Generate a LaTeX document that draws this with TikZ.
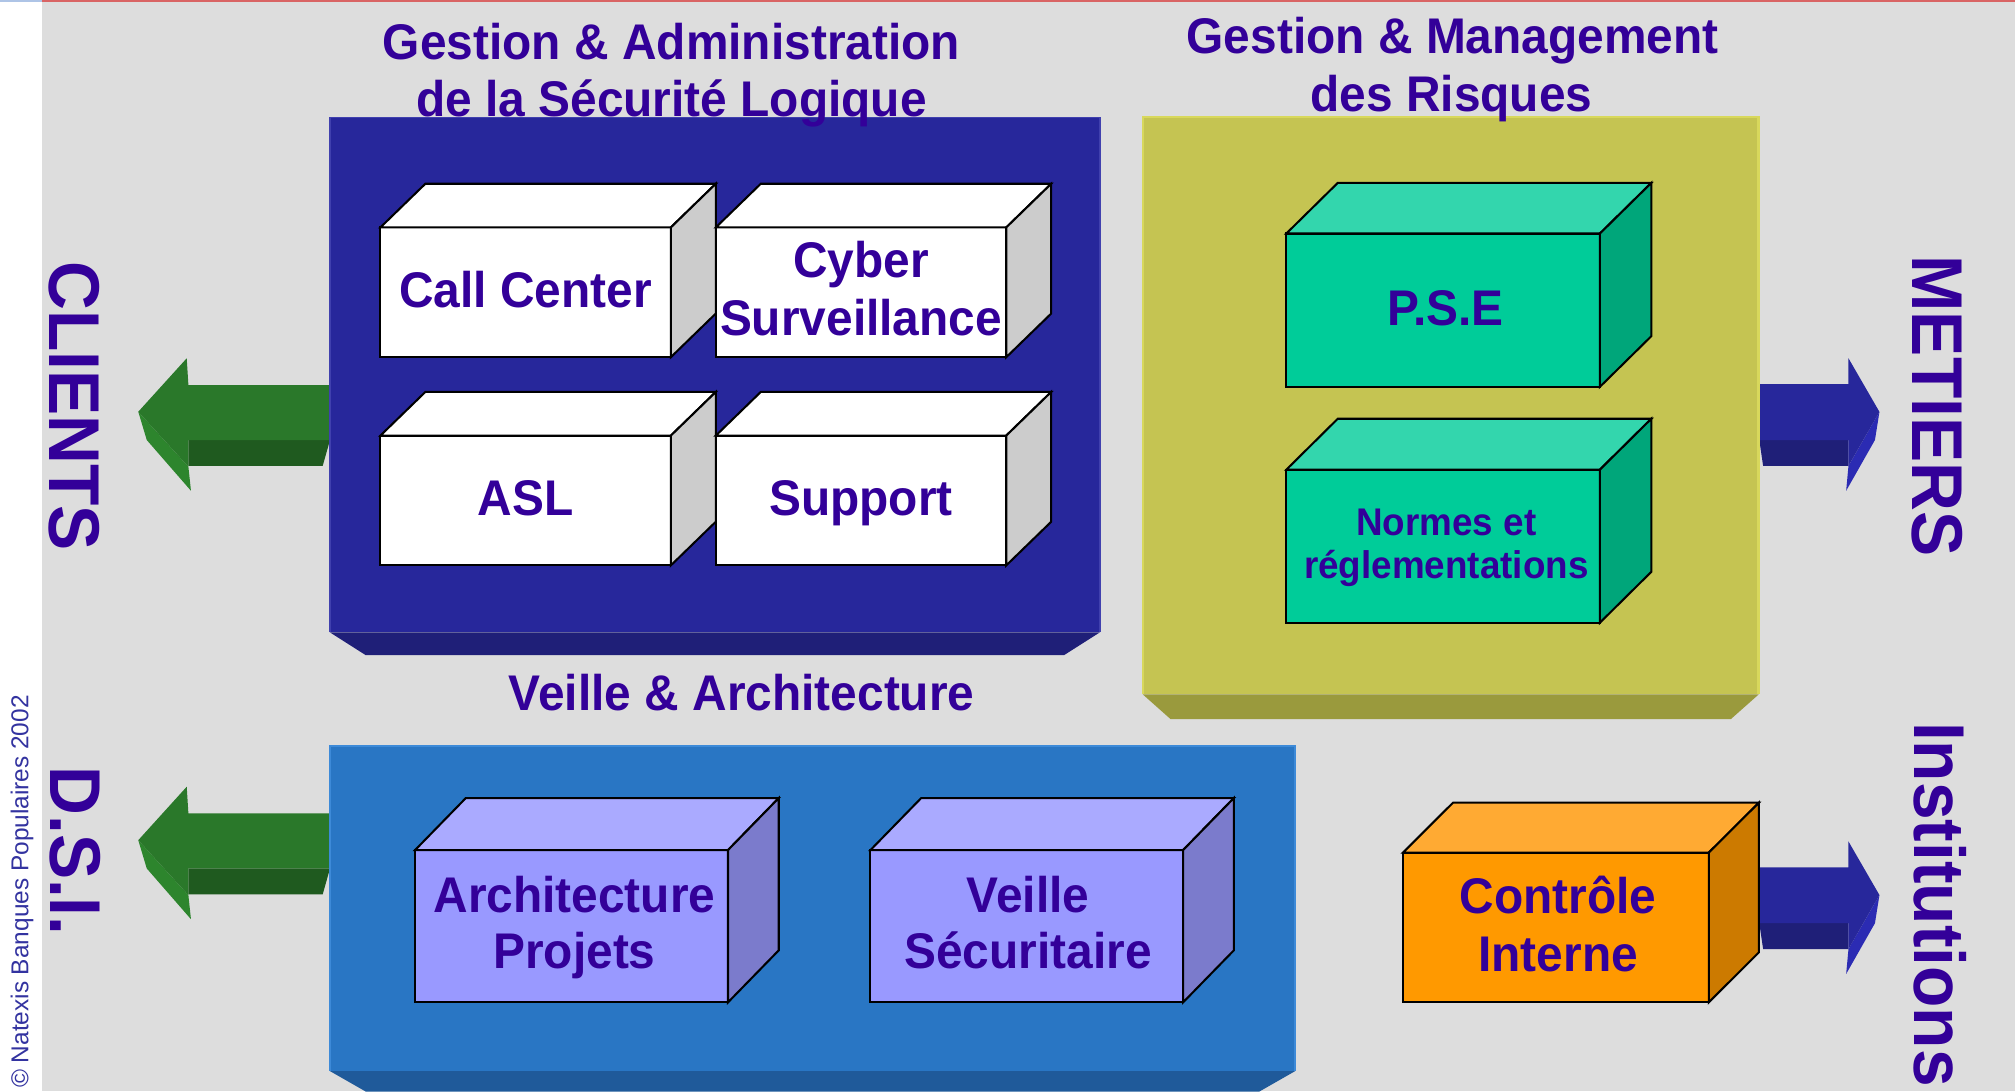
\documentclass[tikz,border=0pt]{standalone}
\usepackage{fontspec}
\setmainfont{Liberation Sans}
\newfontfamily\lbl{Liberation Sans}[FakeStretch=0.955]
\newfontfamily\sidef{Liberation Sans}[FakeStretch=0.94]

\definecolor{bgc}{HTML}{DDDDDD}
\definecolor{txtc}{HTML}{330099}
\definecolor{cpc}{HTML}{3333A0}
\definecolor{topblue}{HTML}{AEC4E6}
\definecolor{topred}{HTML}{D96464}
\definecolor{gaBlue}{HTML}{27279B}
\definecolor{gaBevel}{HTML}{1F1F78}
\definecolor{gaEdge}{HTML}{4040AE}
\definecolor{vaBlue}{HTML}{2976C4}
\definecolor{vaBevel}{HTML}{1F5A9A}
\definecolor{vaEdge}{HTML}{3D8AD8}
\definecolor{olv}{HTML}{C5C452}
\definecolor{olvBevel}{HTML}{9A9A3D}
\definecolor{olvEdge}{HTML}{D8D85C}
\definecolor{gFront}{HTML}{2A782A}
\definecolor{gDark}{HTML}{1F5A1F}
\definecolor{gFacet}{HTML}{2D852D}
\definecolor{bFront}{HTML}{27279B}
\definecolor{bDark}{HTML}{1F1F78}
\definecolor{bFacet}{HTML}{2B2BB3}
% cube palettes
\definecolor{wF}{HTML}{FFFFFF}\definecolor{wT}{HTML}{FFFFFF}\definecolor{wS}{HTML}{CCCCCC}
\definecolor{pF}{HTML}{9999FF}\definecolor{pT}{HTML}{AAAAFF}\definecolor{pS}{HTML}{7B7BCC}
\definecolor{tF}{HTML}{00CC99}\definecolor{tT}{HTML}{33D6AD}\definecolor{tS}{HTML}{00A67A}
\definecolor{oF}{HTML}{FF9900}\definecolor{oT}{HTML}{FFAA33}\definecolor{oS}{HTML}{CC7A00}

\tikzset{
  cubeface/.style={draw=black, line width=0.8pt, line join=miter},
  cubenode/.style={cubeface, inner sep=0pt, outer sep=0pt},
  panel/.style={inner sep=0pt, outer sep=0pt},
  txt/.style={text=txtc, font=\lbl\bfseries\fontsize{19.5}{22.5}\selectfont, inner sep=0pt, anchor=base},
  smalltxt/.style={text=txtc, font=\lbl\bfseries\fontsize{15}{17}\selectfont, inner sep=0pt, anchor=base},
  sidetxt/.style={text=txtc, font=\sidef\bfseries\fontsize{28}{30}\selectfont, inner sep=0pt, rotate=-90, anchor=base west},
}

% #1 name, #2 cx, #3 cy, #4 w, #5 h, #6 dx, #7 dy, #8 palette
\newcommand\cubeblock[8]{%
  \node[cubenode, fill=#8F, minimum width=#4*0.5pt, minimum height=#5*0.5pt] (#1) at (#2,#3) {};
  \filldraw[cubeface, fill=#8T] (#1.north west) -- ++(#6,-#7) -- ++(#4,0) -- (#1.north east) -- cycle;
  \filldraw[cubeface, fill=#8S] (#1.north east) -- ++(#6,-#7) -- ++(0,#5) -- (#1.south east) -- cycle;
}

\newcommand\greenarrow[1]{%
  \begin{scope}[shift={(0,#1)}]
    \fill[gDark] (146.6,342.4) -- (256.8,342.4) -- (251.1,362.6) -- (146.6,362.6) -- cycle;
    \fill[gFacet] (107.6,320.4) -- (114.2,342.4) -- (148.6,381.9) -- (146.6,363.2) -- cycle;
    \fill[gFront] (256.8,299.6) -- (146.6,299.6) -- (145.3,278.8) -- (107.6,320.4) -- (146.6,363.2) -- (146.6,342.4) -- (256.8,342.4) -- cycle;
  \end{scope}}

\newcommand\bluearrow[1]{%
  \begin{scope}[shift={(0,#1)}]
    \fill[bDark] (1369,342.4) -- (1438.4,342.4) -- (1438.4,362.6) -- (1372,362.6) -- cycle;
    \fill[bFacet] (1462.5,320.5) -- (1459,342.4) -- (1436.6,381.9) -- (1438.4,362.5) -- cycle;
    \fill[bFront] (1369,299) -- (1438.4,299) -- (1438.4,278.8) -- (1462.5,320.5) -- (1438.4,362.5) -- (1438.4,342.4) -- (1369,342.4) -- cycle;
  \end{scope}}

\begin{document}
\begin{tikzpicture}[x=0.5pt, y=-0.5pt]
\useasboundingbox (0,0) rectangle (1568,849);
\begin{scope}
\clip (0,0) rectangle (1568,849);
% background
\fill[white] (0,0) rectangle (32.3,849);
\fill[bgc] (32.3,0) rectangle (1568,849);
\fill[topblue] (0,0) rectangle (32.3,1.2);
\fill[topred] (32.3,0) rectangle (1568,1.2);

% arrows
\greenarrow{0}
\greenarrow{333.4}
\bluearrow{0}
\bluearrow{376}

% panel: Gestion & Administration
\node[panel, fill=gaBlue, minimum width=599.4*0.5pt, minimum height=400.7*0.5pt] (gasl) at (556.3,291.65) {};
\fill[gaBevel] (gasl.south west) -- (gasl.south east) -- ++(-27.8,17.7) -- ([shift={(27.8,17.7)}]gasl.south west) -- cycle;
\draw[gaEdge, line width=0.6pt] (gasl.south west) -- (gasl.north west) -- (gasl.north east) -- (gasl.south east);

% panel: Gestion & Management des Risques
\node[panel, fill=olv, minimum width=479.2*0.5pt, minimum height=449.1*0.5pt] (gmr) at (1128.9,315.85) {};
\fill[olvBevel] (gmr.south west) -- (gmr.south east) -- ++(-21.5,19.1) -- ([shift={(21.5,19.1)}]gmr.south west) -- cycle;
\draw[olvEdge, line width=0.9pt] (gmr.south west) -- (gmr.north west) -- (gmr.north east) -- (gmr.south east);

% panel: Veille & Architecture
\node[panel, fill=vaBlue, minimum width=751*0.5pt, minimum height=253.2*0.5pt] (va) at (632.3,706.9) {};
\fill[vaBevel] (va.south west) -- (va.south east) -- ++(-28,16) -- ([shift={(28,16)}]va.south west) -- cycle;
\draw[vaEdge, line width=0.6pt] (va.south west) -- (va.north west) -- (va.north east) -- (va.south east);

% cubes
\cubeblock{cc}{409}{227.5}{226}{101}{35}{34}{w}
\cubeblock{cyber}{670}{227.5}{226}{101}{35}{34}{w}
\cubeblock{asl}{409}{389.5}{226}{101}{35}{34}{w}
\cubeblock{supp}{670}{389.5}{226}{101}{35}{34}{w}
\cubeblock{pse}{1123}{241.35}{244}{119.3}{40}{39.4}{t}
\cubeblock{normes}{1123}{425}{244}{119.1}{40}{39.6}{t}
\cubeblock{arch}{444.75}{720.75}{243.5}{118.5}{39.5}{40.5}{p}
\cubeblock{veille}{799}{720.75}{243.3}{118.5}{39.5}{40.5}{p}
\cubeblock{ctrl}{1210.7}{721.75}{238}{116.5}{39}{38.9}{o}

% cube texts
\node[txt] (cctxt) at (409,239.5) {Call Center};
\node[txt] (cybtxt1) at (670,216) {Cyber};
\node[txt] (cybtxt2) at (670,261) {Surveillance};
\node[txt] (asltxt) at (409,401) {ASL};
\node[txt] (supptxt) at (670,401) {Support};
\node[txt] (psetxt) at (1125,253.5) {P.S.E};
\node[smalltxt] (normtxt1) at (1125.5,416.5) {Normes et};
\node[smalltxt] (normtxt2) at (1125.5,450) {réglementations};
\node[txt] (archtxt1) at (447,710) {Architecture};
\node[txt] (archtxt2) at (447,753.6) {Projets};
\node[txt] (veiltxt1) at (800,710) {Veille};
\node[txt] (veiltxt2) at (800,753.6) {Sécuritaire};
\node[txt] (ctrltxt1) at (1212.5,710.8) {Contrôle};
\node[txt] (ctrltxt2) at (1212.5,756.2) {Interne};

% titles
\node[txt] (t1a) at (522.5,46.2) {Gestion \& Administration};
\node[txt] (t1b) at (522.5,90.8) {de la Sécurité Logique};
\node[txt] (t2a) at (1130.4,41.5) {Gestion \& Management};
\node[txt] (t2b) at (1129.5,86.9) {des Risques};
\node[txt] (t3) at (577.2,552.5) {Veille \& Architecture};

% side labels
\node[sidetxt] (clients) at (38.5,203) {CLIENTS};
\node[sidetxt] (dsi) at (39,596) {D.S.I.};
\node[sidetxt] (metiers) at (1488,198.5) {METIERS};
\node[sidetxt] (instit) at (1489.4,561.5) {Institutions};

% copyright
\node[text=cpc, font=\fontsize{9.5}{11}\selectfont, inner sep=0pt, rotate=90, anchor=base west] (copy) at (22,847) {© Natexis Banques Populaires 2002};
\end{scope}
\end{tikzpicture}
\end{document}
